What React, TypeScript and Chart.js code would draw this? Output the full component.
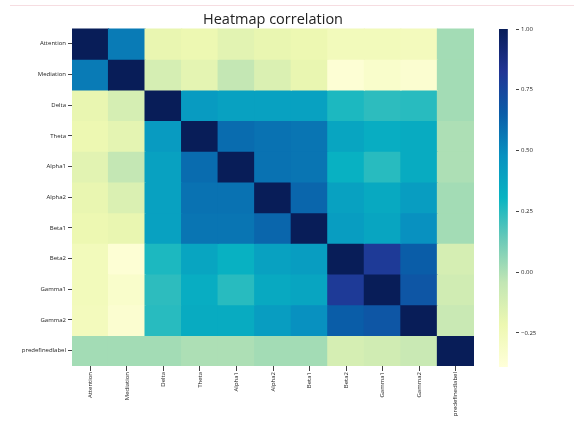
import React, { useEffect, useRef } from "react";
import { Chart, registerables } from "chart.js";

Chart.register(...registerables);

const labels = ["Attention", "Mediation", "Delta", "Theta", "Alpha1", "Alpha2", "Beta1", "Beta2", "Gamma1", "Gamma2", "predefinedlabel"];

const attentionRow = [1.0, 0.55, -0.2, -0.22, -0.17, -0.2, -0.22, -0.26, -0.26, -0.27, 0.02];
const mediationRow = [0.55, 1.0, -0.12, -0.18, -0.05, -0.14, -0.2, -0.37, -0.33, -0.35, 0.02];
const deltaRow = [-0.2, -0.12, 1.0, 0.43, 0.4, 0.4, 0.4, 0.27, 0.24, 0.25, 0.02];
const thetaRow = [-0.22, -0.18, 0.43, 1.0, 0.6, 0.58, 0.57, 0.38, 0.34, 0.35, 0.0];
const alpha1Row = [-0.17, -0.05, 0.4, 0.6, 1.0, 0.58, 0.57, 0.32, 0.25, 0.35, 0.0];
const alpha2Row = [-0.2, -0.14, 0.4, 0.58, 0.58, 1.0, 0.62, 0.4, 0.36, 0.42, 0.02];
const beta1Row = [-0.22, -0.2, 0.4, 0.57, 0.57, 0.62, 1.0, 0.42, 0.38, 0.48, 0.02];
const beta2Row = [-0.26, -0.37, 0.27, 0.38, 0.32, 0.4, 0.42, 1.0, 0.8, 0.65, -0.12];
const gamma1Row = [-0.26, -0.33, 0.24, 0.34, 0.25, 0.36, 0.38, 0.8, 1.0, 0.68, -0.1];
const gamma2Row = [-0.27, -0.35, 0.25, 0.35, 0.35, 0.42, 0.48, 0.65, 0.68, 1.0, -0.07];
const predefinedlabelRow = [0.02, 0.02, 0.02, 0.0, 0.0, 0.02, 0.02, -0.12, -0.1, -0.07, 1.0];

const rows = [attentionRow, mediationRow, deltaRow, thetaRow, alpha1Row, alpha2Row, beta1Row, beta2Row, gamma1Row, gamma2Row, predefinedlabelRow];

const colorbarTicks = [-0.25, 0.0, 0.25, 0.5, 0.75, 1.0];
const vmin = -0.39;
const vmax = 1.0;

const ylgnbu = ["#ffffd9", "#edf8b1", "#c2e6b4", "#6ccab8", "#08b4c2", "#0891c0", "#0a5ca8", "#213494", "#081d58"];

function hexToRgb(h: string) {
  return [parseInt(h.slice(1, 3), 16), parseInt(h.slice(3, 5), 16), parseInt(h.slice(5, 7), 16)];
}

function colorFor(v: number) {
  let f = (v - vmin) / (vmax - vmin);
  f = Math.max(0, Math.min(1, f));
  const pos = f * (ylgnbu.length - 1);
  const i = Math.min(ylgnbu.length - 2, Math.floor(pos));
  const t = pos - i;
  const a = hexToRgb(ylgnbu[i]);
  const b = hexToRgb(ylgnbu[i + 1]);
  const c = a.map((x, k) => Math.round(x + (b[k] - x) * t));
  return `rgb(${c[0]},${c[1]},${c[2]})`;
}

const FONT = "'Open Sans', 'DejaVu Sans', sans-serif";

export default function App() {
  const mainRef = useRef<HTMLCanvasElement>(null);
  const barRef = useRef<HTMLCanvasElement>(null);

  useEffect(() => {
    const datasets = rows.map((row, i) => ({
      label: labels[i],
      data: row.map((v, j) => ({ x: labels[j], y: [i - 0.5, i + 0.5], v })),
      backgroundColor: row.map((v) => colorFor(v)),
      borderWidth: 0,
      borderSkipped: false,
      barPercentage: 1,
      categoryPercentage: 1,
      grouped: false,
      inflateAmount: 0.6,
    }));

    const main = new Chart(mainRef.current!, {
      type: "bar",
      data: { labels, datasets: datasets as any },
      options: {
        animation: false,
        responsive: false,
        layout: { padding: { left: 0, right: 16, top: 0, bottom: 0 } },
        plugins: {
          legend: { display: false },
          tooltip: { enabled: false },
          title: {
            display: true,
            text: "Heatmap correlation",
            fullSize: false,
            color: "#222",
            font: { family: FONT, size: 14.5, weight: "normal" },
            padding: { top: 11, bottom: 0 },
          },
        },
        scales: {
          x: {
            type: "category",
            offset: true,
            grid: { display: true, offset: false, drawOnChartArea: false, drawTicks: true, tickLength: 5, color: "#444" },
            border: { display: false },
            ticks: {
              color: "#222",
              font: { family: FONT, size: 6 },
              maxRotation: 90,
              minRotation: 90,
              padding: 1,
              autoSkip: false,
            },
            afterFit: (s: any) => {
              s.height = 55;
            },
          },
          y: {
            type: "linear",
            reverse: true,
            min: -0.5,
            max: 10.5,
            grid: { display: true, drawOnChartArea: false, drawTicks: true, tickLength: 4, color: "#444" },
            border: { display: false },
            afterBuildTicks: (s: any) => {
              s.ticks = labels.map((_, i) => ({ value: i }));
            },
            ticks: {
              color: "#222",
              font: { family: FONT, size: 6 },
              padding: 2,
              autoSkip: false,
              callback: (v: any) => labels[Math.round(Number(v))] ?? "",
            },
            afterFit: (s: any) => {
              s.width = 72;
            },
          },
        },
      },
    });

    const bar = new Chart(barRef.current!, {
      type: "bar",
      data: {
        labels: ["colorbar"],
        datasets: [
          {
            data: [[vmin, vmax]] as any,
            borderWidth: 0,
            borderSkipped: false,
            barPercentage: 1,
            categoryPercentage: 1,
            backgroundColor: (ctx: any) => {
              const chart = ctx.chart;
              const area = chart.chartArea;
              if (!area) return ylgnbu[4];
              const g = chart.ctx.createLinearGradient(0, area.bottom, 0, area.top);
              ylgnbu.forEach((c, k) => g.addColorStop(k / (ylgnbu.length - 1), c));
              return g;
            },
          },
        ],
      },
      options: {
        animation: false,
        responsive: false,
        layout: { padding: { left: 19, right: 0, top: 29, bottom: 54 } },
        plugins: { legend: { display: false }, tooltip: { enabled: false }, title: { display: false } },
        scales: {
          x: { display: false, offset: false },
          y: {
            type: "linear",
            position: "right",
            min: vmin,
            max: vmax,
            grid: { display: true, drawOnChartArea: false, drawTicks: true, tickLength: 3, color: "#444" },
            border: { display: false },
            afterBuildTicks: (s: any) => {
              s.ticks = colorbarTicks.map((v) => ({ value: v }));
            },
            ticks: {
              color: "#222",
              font: { family: FONT, size: 6 },
              padding: 2,
              callback: (v: any) => {
                const n = Number(v);
                return n < 0 ? "\u2212" + Math.abs(n).toFixed(2) : n.toFixed(2);
              },
            },
            afterFit: (s: any) => {
              s.width = 58;
            },
          },
        },
      },
    });

    return () => {
      main.destroy();
      bar.destroy();
    };
  }, []);

  return (
    <div style={{ position: "fixed", left: 0, top: 0, width: 574, height: 421, background: "#fff", overflow: "hidden" }}>
      <div style={{ position: "absolute", left: 10, top: 5, width: 564, height: 0, borderTop: "1px solid #f6dde1" }} />
      <canvas ref={mainRef} width={490} height={421} style={{ position: "absolute", left: 0, top: 0 }} />
      <canvas ref={barRef} width={94} height={421} style={{ position: "absolute", left: 480, top: 0 }} />
    </div>
  );
}
